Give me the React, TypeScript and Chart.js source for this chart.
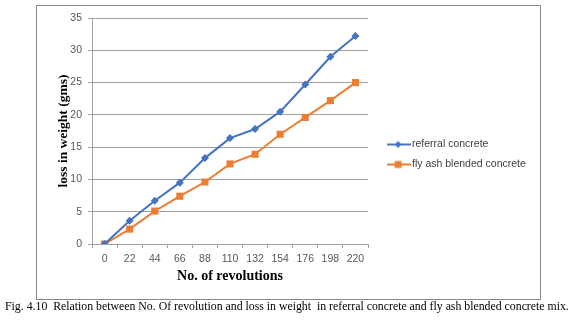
import React, { useEffect, useRef } from 'react';
import { Chart, registerables } from 'chart.js';

Chart.register(...registerables);

const revolutions = ['0', '22', '44', '66', '88', '110', '132', '154', '176', '198', '220'];
const referralConcrete = [0, 3.6, 6.7, 9.5, 13.3, 16.4, 17.8, 20.5, 24.7, 29.0, 32.2];
const flyAshConcrete = [0, 2.3, 5.1, 7.4, 9.6, 12.4, 13.9, 17.0, 19.6, 22.2, 25.0];
const seriesNames = ['referral concrete', 'fly ash blended concrete'];
const yMin = 0;
const yMax = 35;
const yStep = 5;
const xTitle = 'No. of revolutions';
const yTitle = 'loss in weight (gms)';
const caption =
  'Fig. 4.10  Relation between No. Of revolution and loss in weight  in referral concrete and fly ash blended concrete mix.';

const BLUE = '#4472C4';
const ORANGE = '#ED7D31';
const GRID = '#a0a0a0';
const TICK_COLOR = '#595959';

function makeLegendIcon(color: string, shape: 'diamond' | 'square') {
  const c = document.createElement('canvas');
  c.width = 38;
  c.height = 10;
  const ctx = c.getContext('2d')!;
  ctx.strokeStyle = color;
  ctx.lineWidth = 2;
  ctx.beginPath();
  ctx.moveTo(14, 5);
  ctx.lineTo(38, 5);
  ctx.stroke();
  ctx.fillStyle = color;
  ctx.beginPath();
  if (shape === 'diamond') {
    ctx.moveTo(25, 1.5);
    ctx.lineTo(28.5, 5);
    ctx.lineTo(25, 8.5);
    ctx.lineTo(21.5, 5);
    ctx.closePath();
  } else {
    ctx.rect(21.5, 1.5, 7, 7);
  }
  ctx.fill();
  return c;
}

export default function App() {
  const canvasRef = useRef<HTMLCanvasElement | null>(null);

  useEffect(() => {
    if (!canvasRef.current) return;
    const icons = [makeLegendIcon(BLUE, 'diamond'), makeLegendIcon(ORANGE, 'square')];
    const tickFont = { family: "'Liberation Sans', Arial, sans-serif", size: 10.5 };
    const chart = new Chart(canvasRef.current, {
      type: 'line',
      data: {
        labels: revolutions,
        datasets: [
          {
            label: seriesNames[0],
            data: referralConcrete,
            borderColor: BLUE,
            backgroundColor: BLUE,
            borderWidth: 2,
            pointStyle: 'rectRot',
            pointRadius: 4,
            pointBorderWidth: 0,
            pointHoverRadius: 4,
            tension: 0,
          },
          {
            label: seriesNames[1],
            data: flyAshConcrete,
            borderColor: ORANGE,
            backgroundColor: ORANGE,
            borderWidth: 2,
            pointStyle: 'rect',
            pointRadius: 5,
            pointBorderWidth: 0,
            pointHoverRadius: 5,
            tension: 0,
          },
        ],
      },
      options: {
        responsive: false,
        animation: false,
        layout: { padding: { left: 51, top: 18, right: 52, bottom: 33 } },
        plugins: {
          tooltip: { enabled: false },
          legend: {
            position: 'right',
            maxWidth: 160,
            title: { display: true, text: '', padding: 0, font: { size: 2, lineHeight: 1 } },
            labels: {
              usePointStyle: true,
              pointStyleWidth: 29.25,
              padding: 9.5,
              color: '#404040',
              font: { family: "'Liberation Sans', Arial, sans-serif", size: 10.5 },
              generateLabels: (ch: any) => {
                const items = Chart.defaults.plugins.legend.labels.generateLabels(ch);
                return items.map((it: any, i: number) => ({ ...it, pointStyle: icons[i], lineWidth: 0 }));
              },
            },
          },
        },
        scales: {
          x: {
            type: 'category',
            offset: true,
            grid: { offset: true, drawOnChartArea: false, drawTicks: true, tickLength: 4, color: GRID },
            border: { display: true, color: GRID },
            ticks: { color: TICK_COLOR, font: tickFont, padding: 5, maxRotation: 0, autoSkip: false },
            title: {
              display: true,
              text: xTitle,
              color: '#000',
              font: { family: "'Liberation Serif', 'Times New Roman', serif", size: 14, weight: 'bold' },
              padding: { top: 4, bottom: 4 },
            },
            afterFit: (s: any) => {
              s.height = 45;
            },
          },
          y: {
            min: yMin,
            max: yMax,
            grid: { color: GRID, tickLength: 4, drawTicks: true },
            border: { display: true, color: GRID },
            ticks: { stepSize: yStep, color: TICK_COLOR, font: tickFont, padding: 6 },
            title: {
              display: true,
              text: yTitle,
              color: '#000',
              font: { family: "'Liberation Serif', 'Times New Roman', serif", size: 13.5, weight: 'bold' },
              padding: { top: 4, bottom: 4 },
            },
            afterFit: (s: any) => {
              s.width = 41;
            },
          },
        },
      },
    } as any);
    return () => chart.destroy();
  }, []);

  return (
    <div style={{ position: 'absolute', left: 0, top: 0, width: 580, height: 322, background: '#fff', overflow: 'hidden' }}>
      <div
        style={{
          position: 'absolute',
          left: 36,
          top: 5,
          width: 505,
          height: 295,
          border: '1px solid #888',
          boxSizing: 'border-box',
        }}
      />
      <canvas ref={canvasRef} width={580} height={322} style={{ position: 'absolute', left: 0, top: 0 }} />
      <div
        style={{
          position: 'absolute',
          left: 5,
          top: 300,
          fontFamily: "'Liberation Serif', 'Times New Roman', serif",
          fontSize: 11.8,
          lineHeight: '13px',
          whiteSpace: 'pre',
          color: '#000',
        }}
      >
        {caption}
      </div>
    </div>
  );
}
